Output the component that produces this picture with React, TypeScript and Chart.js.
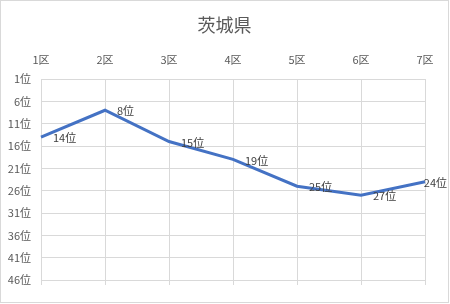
import React, { useEffect, useRef } from "react";
import { Chart, registerables } from "chart.js";

Chart.register(...registerables);

const title = "茨城県";
const categories = ["1区", "2区", "3区", "4区", "5区", "6区", "7区"];
const ranks = [14, 8, 15, 19, 25, 27, 24];
const rankMin = 1;
const rankMax = 46;
const rankStep = 5;

const FONT = "'Noto Sans CJK JP', 'Noto Sans', sans-serif";

const decorPlugin = {
  id: "decor",
  afterDraw(chart: any) {
    const ctx = chart.ctx;
    const area = chart.chartArea;
    const xs = chart.scales.x;
    // title
    ctx.save();
    ctx.fillStyle = "#595959";
    ctx.font = `18px ${FONT}`;
    ctx.textAlign = "center";
    ctx.textBaseline = "middle";
    ctx.fillText(title, chart.width / 2, 24);
    // small tick extensions below the bottom
    ctx.strokeStyle = "#d9d9d9";
    ctx.lineWidth = 1;
    for (let i = 0; i < categories.length; i++) {
      const x = Math.round(xs.getPixelForValue(i)) + 0.5;
      ctx.beginPath();
      ctx.moveTo(x, area.bottom);
      ctx.lineTo(x, area.bottom + 5);
      ctx.stroke();
    }
    // data labels
    const meta = chart.getDatasetMeta(0);
    ctx.font = `11px ${FONT}`;
    ctx.fillStyle = "#404040";
    ctx.textAlign = "left";
    ctx.textBaseline = "middle";
    meta.data.forEach((pt: any, i: number) => {
      const text = `${ranks[i]}位`;
      const w = ctx.measureText(text).width;
      let x = pt.x + 12;
      if (x + w > chart.width - 1) x = chart.width - 1 - w;
      ctx.fillText(text, x, pt.y + 1);
    });
    ctx.restore();
  },
};

export default function App() {
  const ref = useRef<HTMLCanvasElement>(null);
  useEffect(() => {
    document.body.style.margin = "0";
    if (!ref.current) return;
    const chart = new Chart(ref.current, {
      type: "line",
      data: {
        labels: categories,
        datasets: [
          {
            data: ranks,
            borderColor: "#4472C4",
            borderWidth: 3,
            pointRadius: 0,
            tension: 0,
            fill: false,
          },
        ],
      },
      options: {
        animation: false,
        responsive: false,
        maintainAspectRatio: false,
        layout: { padding: { left: 0, right: 23, top: 0, bottom: 22 } },
        plugins: {
          legend: { display: false },
          title: { display: false },
          tooltip: { enabled: false },
        },
        scales: {
          x: {
            position: "top",
            offset: false,
            grid: { color: "#d9d9d9", drawTicks: false },
            border: { display: false },
            ticks: {
              color: "#595959",
              font: { size: 11, family: FONT },
              padding: 13,
              maxRotation: 0,
            },
            afterFit(scale: any) {
              scale.height = 78;
            },
          },
          y: {
            reverse: true,
            min: rankMin,
            max: rankMax,
            grid: { color: "#d9d9d9", drawTicks: false },
            border: { display: false },
            ticks: {
              stepSize: rankStep,
              color: "#595959",
              font: { size: 11, family: FONT },
              padding: 10,
              callback: (v: any) => `${v}位`,
            },
            afterFit(scale: any) {
              scale.width = 40;
            },
          },
        },
      },
      plugins: [decorPlugin],
    });
    return () => chart.destroy();
  }, []);
  return (
    <div
      style={{
        width: 449,
        height: 303,
        border: "1px solid #d9d9d9",
        boxSizing: "border-box",
        background: "#fff",
      }}
    >
      <canvas ref={ref} width={447} height={301} style={{ display: "block" }} />
    </div>
  );
}
